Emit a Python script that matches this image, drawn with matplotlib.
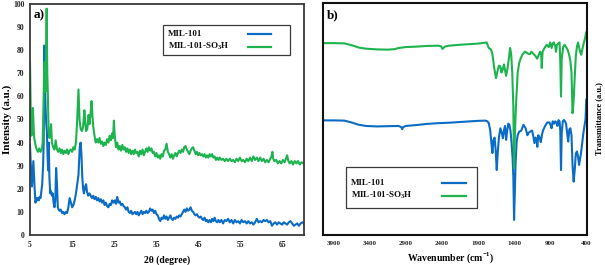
import matplotlib
matplotlib.use("Agg")
import matplotlib.pyplot as plt
from matplotlib.lines import Line2D
from matplotlib.patches import Rectangle

plt.rcParams['font.family'] = ['Liberation Serif', 'DejaVu Serif']
plt.rcParams['font.weight'] = 'bold'
plt.rcParams['mathtext.fontset'] = 'custom'
plt.rcParams['mathtext.rm'] = 'Liberation Serif:bold'
plt.rcParams['mathtext.bf'] = 'Liberation Serif:bold'

BLUE = '#0a6cc4'
GREEN = '#1db34f'

# ---------------- XRD data (panel a) ----------------
xrd_green_x = [5.0, 5.2, 5.35, 5.5, 5.7, 5.85, 6.0, 6.3, 6.6, 6.9, 7.2, 7.5, 7.8, 8.0, 8.2, 8.35, 8.5, 8.65, 8.8, 8.95,
               9.1, 9.25, 9.4, 9.6, 9.8, 10.0, 10.2, 10.5, 10.8, 11.1, 11.4, 11.7, 12.0, 12.3, 12.6, 12.9, 13.2, 13.5,
               13.8, 14.1, 14.4, 14.7, 15.0, 15.3, 15.6, 15.9, 16.2, 16.5, 16.75, 17.0, 17.3, 17.6, 17.9, 18.1, 18.3,
               18.6, 18.9, 19.1, 19.4, 19.6, 19.8, 20.0, 20.3, 20.6, 20.9, 21.2, 21.5, 21.8, 22.1, 22.4, 22.7, 23.0,
               23.3, 23.6, 23.9, 24.2, 24.5, 24.7, 24.9, 25.1, 25.4, 25.7, 26.0, 26.3, 26.6, 26.9, 27.2, 27.5, 27.8,
               28.1, 28.4, 28.7, 29.0, 29.3, 29.6, 29.9, 30.2, 30.5, 30.8, 31.1, 31.4, 31.7, 32.0, 32.3, 32.6, 32.9,
               33.2, 33.5, 33.8, 34.1, 34.4, 34.7, 35.0, 35.3, 35.6, 35.9, 36.2, 36.5, 36.8, 37.1, 37.4, 37.7, 38.0,
               38.3, 38.6, 38.9, 39.2, 39.5, 39.8, 40.1, 40.4, 40.7, 41.0, 41.3, 41.6, 41.9, 42.2, 42.5, 42.8, 43.1,
               43.4, 43.7, 44.0, 44.3, 44.6, 44.9, 45.2, 45.5, 45.8, 46.1, 46.4, 46.7, 47.0, 47.3, 47.6, 47.9, 48.2,
               48.5, 48.8, 49.1, 49.4, 49.7, 50.0, 50.4, 50.8, 51.2, 51.6, 52.0, 52.4, 52.8, 53.2, 53.6, 54.0, 54.4,
               54.8, 55.2, 55.6, 56.0, 56.4, 56.8, 57.2, 57.6, 58.0, 58.4, 58.8, 59.2, 59.6, 60.0, 60.4, 60.8, 61.2,
               61.6, 62.0, 62.3, 62.5, 62.7, 63.0, 63.4, 63.8, 64.2, 64.6, 65.0, 65.4, 65.8, 66.0, 66.3, 66.6, 67.0,
               67.4, 67.8, 68.2, 68.6, 69.0, 69.4, 69.8]
xrd_green_y = [75, 50, 43, 46, 55, 47, 42, 39, 37, 36, 37.5, 36, 37, 40, 55, 72, 75, 62, 78, 98,
               70, 60, 45, 42, 44, 48, 40, 38, 37, 41, 37, 36, 37.5, 35.5, 37, 35, 36.5, 35.5,
               37, 35, 36.5, 37, 36, 38, 37, 40, 50, 63, 50, 46, 45, 47, 54, 49, 45,
               46, 52, 48, 53, 58, 52, 47, 43, 40, 41.5, 40, 42, 39.5, 40.5, 38.5, 40, 39,
               41.5, 40, 43, 41, 44, 42, 49.5, 43, 38, 40, 37, 38.5, 36.5, 39, 37, 38, 36,
               37.5, 35.5, 37, 35, 36.5, 35, 37, 35.5, 36, 34, 36.5, 35, 37, 34.5, 36, 37.5, 36,
               38, 36.5, 37.5, 35.5, 36, 34, 35.5, 33.5, 34.5, 33, 35, 34, 36.5, 37, 39.5, 36, 35,
               33.5, 35, 33, 34.5, 35.5, 34, 35.5, 36.5, 35.5, 37, 36, 38, 38.5, 37, 36, 35, 36.5,
               37.5, 38, 36.5, 35, 36, 34.5, 35.5, 34.5, 35, 34, 35, 33.5, 34.5, 33.5, 35, 34, 35,
               33.5, 34, 32.5, 33.5, 32.5, 33.5, 32.5, 33, 32, 33, 32, 33, 32, 32.5, 31.5, 33, 32,
               33.5, 32, 32.5, 31.5, 33, 32, 33.5, 32, 34, 32.5, 33.5, 32, 33.5, 32, 33, 31.5, 32.5,
               31.5, 33, 34, 36, 33, 32, 32.5, 31, 32, 31, 32.5, 31.5, 33.5, 34.5, 32, 31, 32,
               30.5, 32, 31, 32, 30.5, 31.5, 31]

xrd_blue_x = [5.0, 5.15, 5.3, 5.45, 5.6, 5.8, 5.95, 6.1, 6.3, 6.5, 6.7, 6.9, 7.1, 7.3, 7.5, 7.7, 7.9, 8.1, 8.25, 8.4,
              8.55, 8.7, 8.85, 9.0, 9.15, 9.3, 9.45, 9.6, 9.8, 10.0, 10.2, 10.4, 10.6, 10.8, 11.0, 11.2, 11.4, 11.6,
              11.8, 12.0, 12.3, 12.6, 12.9, 13.2, 13.5, 13.8, 14.1, 14.4, 14.7, 15.0, 15.3, 15.6, 15.9, 16.2, 16.5,
              16.8, 17.0, 17.2, 17.4, 17.6, 17.8, 18.1, 18.3, 18.5, 18.8, 19.1, 19.4, 19.7, 20.0, 20.3, 20.6, 20.9,
              21.2, 21.5, 21.8, 22.1, 22.4, 22.7, 23.0, 23.3, 23.6, 23.9, 24.2, 24.5, 24.8, 25.1, 25.4, 25.7, 26.0,
              26.3, 26.6, 26.9, 27.2, 27.5, 27.8, 28.1, 28.4, 28.7, 29.0, 29.3, 29.6, 29.9, 30.2, 30.5, 30.8, 31.1,
              31.4, 31.7, 32.0, 32.3, 32.6, 32.9, 33.2, 33.5, 33.8, 34.1, 34.4, 34.7, 35.0, 35.3, 35.6, 35.9, 36.2,
              36.5, 36.8, 37.1, 37.4, 37.7, 38.0, 38.3, 38.6, 38.9, 39.2, 39.5, 39.8, 40.1, 40.4, 40.7, 41.0, 41.3,
              41.6, 41.9, 42.2, 42.5, 42.8, 43.1, 43.4, 43.7, 44.0, 44.3, 44.6, 44.9, 45.2, 45.5, 45.8, 46.1, 46.4,
              46.7, 47.0, 47.3, 47.6, 47.9, 48.2, 48.5, 48.8, 49.1, 49.4, 49.7, 50.0, 50.4, 50.8, 51.2, 51.6, 52.0,
              52.4, 52.8, 53.2, 53.6, 54.0, 54.4, 54.8, 55.2, 55.6, 56.0, 56.4, 56.8, 57.2, 57.6, 58.0, 58.4, 58.8,
              59.2, 59.6, 60.0, 60.4, 60.8, 61.2, 61.6, 62.0, 62.4, 62.8, 63.2, 63.6, 64.0, 64.4, 64.8, 65.2, 65.6,
              66.0, 66.4, 66.8, 67.2, 67.6, 68.0, 68.4, 68.8, 69.2, 69.6, 70.0]
xrd_blue_y = [39, 32, 27, 21, 26, 32, 26, 20, 14, 16, 15, 16, 15, 16.5, 16, 19, 22, 30, 40, 82,
              65, 55, 48, 45, 35, 28, 40, 25, 18, 19, 17, 18, 14, 12, 15, 29, 22, 12,
              11, 10.5, 11, 9.5, 10, 9, 10, 9.5, 12, 16, 14, 12, 13, 15, 18, 22, 26,
              38, 40, 35, 25, 20, 18, 21, 22, 19, 17, 18, 17, 16, 17, 15.5, 16.5, 15,
              16, 14.5, 15.5, 14, 15, 13, 14, 12.5, 12, 13.5, 13, 15, 14, 15, 13.5, 16.5, 14,
              14.5, 13, 13.5, 12.5, 12, 11, 12, 10, 9.5, 10.5, 9, 9.5, 10, 9, 10, 8.5, 9.5,
              10.5, 9, 10, 9.5, 10.5, 9.5, 10, 11.5, 10.5, 11, 9.5, 10.5, 9, 8.5, 7, 6, 7.5,
              7, 8.5, 7, 8, 6.5, 7.5, 8.5, 7, 6.5, 7.5, 7, 8, 7.5, 8.5, 8, 9, 10,
              11, 10, 11.5, 10.5, 11, 12, 10.5, 10, 9, 8.5, 9, 8, 7.5, 8, 7, 6.5, 7.5,
              6, 6.5, 5.5, 6.5, 5.5, 7, 6, 7.5, 6, 5.5, 6.5, 5.5, 6.5, 5, 6.5, 6, 7,
              5.5, 6.5, 5, 6.5, 5.5, 6, 5, 6.5, 5.5, 6, 5, 6, 5, 5.5, 4.5, 5.5, 7,
              5.5, 6, 5.5, 6.5, 6, 6.5, 5.5, 6, 4, 5, 5.5, 4.5, 5.5, 5, 4.5, 5.5, 5,
              4.5, 5.5, 6, 5, 4, 4.5, 5, 4, 5, 5.5, 5]

# ---------------- FTIR data (panel b) ----------------
ftir_green_x = [4050, 3900, 3750, 3650, 3550, 3450, 3300, 3150, 3050, 3000, 2900, 2750, 2600, 2450, 2410, 2390,
                2360, 2300, 2150, 2000, 1900, 1820, 1780, 1750, 1720, 1700, 1675, 1650, 1630, 1610, 1590, 1575,
                1560, 1540, 1525, 1510, 1490, 1470, 1455, 1440, 1425, 1410, 1400, 1390, 1375, 1350, 1330, 1310,
                1280, 1250, 1220, 1200, 1180, 1160, 1130, 1100, 1080, 1060, 1040, 1025, 1017, 1005, 980, 950,
                920, 900, 880, 865, 850, 830, 820, 805, 790, 770, 760, 750, 740, 720, 700, 680, 660, 640, 620,
                605, 590, 575, 560, 545, 530, 515, 500, 485, 470, 455, 440, 420, 400]
ftir_green_y = [82.7, 82.7, 82.6, 81.8, 80.8, 80.3, 80.0, 79.9, 80.1, 80.6, 81.0, 81.2, 81.5, 81.6, 81.3, 80.2,
                81.2, 81.6, 82.0, 82.3, 82.5, 82.8, 83.0, 80.6, 80.0, 78.0, 72.0, 67.6, 70.5, 73.0, 72.7, 70.0,
                71.0, 73.5, 71.0, 68.6, 72.0, 76.5, 80.6, 78.0, 70.0, 55.0, 28.8, 42.0, 55.0, 70.0, 74.0, 76.0,
                78.0, 79.0, 78.5, 78.0, 78.0, 79.0, 78.0, 77.0, 76.0, 77.5, 79.0, 78.0, 72.0, 79.0, 80.5, 82.0,
                81.0, 83.0, 80.6, 82.5, 83.0, 81.5, 79.0, 82.0, 82.5, 83.0, 75.0, 59.7, 76.0, 81.0, 82.0, 81.0,
                80.0, 78.0, 75.0, 70.0, 52.5, 58.0, 68.0, 77.0, 81.0, 83.0, 81.0, 79.0, 77.7, 80.0, 82.0, 84.5, 87.3]

ftir_blue_x = [4050, 3900, 3750, 3650, 3550, 3450, 3300, 3150, 3000, 2960, 2950, 2935, 2900, 2750, 2600, 2450,
               2300, 2150, 2000, 1900, 1800, 1770, 1750, 1730, 1715, 1700, 1685, 1670, 1655, 1640, 1625, 1610,
               1590, 1570, 1555, 1540, 1525, 1510, 1495, 1480, 1465, 1450, 1435, 1420, 1410, 1400, 1390, 1380,
               1365, 1350, 1330, 1300, 1270, 1240, 1215, 1200, 1180, 1150, 1130, 1118, 1100, 1085, 1078, 1065,
               1045, 1030, 1015, 1000, 970, 940, 910, 890, 880, 865, 845, 830, 815, 800, 785, 770, 760, 750,
               740, 725, 710, 695, 680, 665, 650, 635, 620, 605, 590, 575, 560, 545, 530, 515, 500, 485, 470,
               455, 440, 425, 410, 400]
ftir_blue_y = [49.4, 49.4, 49.3, 48.5, 47.5, 47.0, 46.8, 46.9, 47.0, 46.5, 45.6, 46.5, 47.0, 47.4, 47.9, 48.2,
               48.4, 48.7, 49.0, 49.2, 49.3, 49.0, 48.2, 45.0, 40.0, 35.3, 41.0, 42.0, 36.7, 28.0, 36.0, 42.0,
               46.0, 44.0, 41.7, 45.0, 47.0, 41.0, 45.0, 48.0, 47.5, 45.0, 40.0, 33.0, 25.0, 6.5, 18.0, 30.0,
               40.0, 43.0, 44.5, 45.0, 47.5, 46.0, 43.0, 44.0, 44.5, 45.0, 42.0, 39.6, 42.0, 40.0, 38.0, 43.0,
               42.0, 40.0, 43.0, 45.0, 47.0, 48.5, 48.5, 47.0, 46.0, 49.0, 48.0, 49.0, 48.5, 47.0, 49.5, 49.0,
               45.0, 28.0, 44.0, 49.0, 49.6, 49.0, 48.0, 44.0, 40.3, 45.5, 46.0, 43.0, 30.0, 23.0, 28.0, 35.0,
               36.0, 34.0, 30.2, 33.0, 36.0, 40.0, 44.0, 47.0, 50.0, 58.3]

labels = ['MIL-101', 'MIL-101-SO$_{3}$H']
colors = [BLUE, GREEN]

W, H = 605, 265
fig = plt.figure(figsize=(W / 100, H / 100), dpi=100)
SPINE = '#3a3a3a'


def fx(px):
    return px / W


def fy(py):
    return 1 - py / H


def manual_legend(box, text_x, line_x0, line_x1, rows_y):
    x0, y0, x1, y1 = box
    fig.patches.append(Rectangle((fx(x0), fy(y1)), fx(x1) - fx(x0), fy(y0) - fy(y1),
                                 transform=fig.transFigure, facecolor='white',
                                 edgecolor=SPINE, linewidth=0.9, zorder=5))
    for lab, col, ry in zip(labels, colors, rows_y):
        fig.text(fx(text_x), fy(ry), lab, fontsize=6.5, fontweight='bold', ha='left', va='center',
                 color='#111111', zorder=6)
        fig.lines.append(Line2D([fx(line_x0), fx(line_x1)], [fy(ry), fy(ry)], transform=fig.transFigure,
                                color=col, lw=1.6, zorder=6))


# ---------------- Panel a ----------------
ax1 = fig.add_axes([fx(30), 30 / H, 274 / W, 231 / H])
ax1.plot(xrd_blue_x, xrd_blue_y, color=BLUE, lw=1.5)
ax1.plot(xrd_green_x, xrd_green_y, color=GREEN, lw=1.5)
ax1.set_xlim(5, 70)
ax1.set_ylim(0, 100)
ax1.set_xticks([5, 15, 25, 35, 45, 55, 65])
ax1.set_yticks(range(0, 101, 10))
ax1.tick_params(labelsize=5.5, length=0, pad=4, colors='#222222')
for s in ax1.spines.values():
    s.set_color(SPINE)
    s.set_linewidth(1.3)
ax1.set_xlabel('2θ (degree)', fontsize=7, fontweight='bold', labelpad=5)
fig.text(fx(7), fy(119), 'Intensity (a.u.)', rotation=90, fontsize=8, fontweight='bold',
         ha='center', va='center')
ax1.text(0.015, 0.975, 'a)', transform=ax1.transAxes, fontsize=9.5, fontweight='bold', va='top', ha='left')
manual_legend((163, 25, 290, 55), 168, 248, 271, (34, 46.5))

# ---------------- Panel b ----------------
ax2 = fig.add_axes([fx(323), 30 / H, 264 / W, 232 / H])
ax2.plot(ftir_blue_x, ftir_blue_y, color=BLUE, lw=1.5)
ax2.plot(ftir_green_x, ftir_green_y, color=GREEN, lw=1.5)
ax2.set_xlim(4046, 390)
ax2.set_ylim(0, 100)
ax2.set_xticks([3900, 3400, 2900, 2400, 1900, 1400, 900, 400])
ax2.set_yticks([])
ax2.tick_params(labelsize=5, length=0, pad=4, colors='#222222')
for s in ax2.spines.values():
    s.set_color('#111111')
    s.set_linewidth(1.5)
fig.text(fx(451), fy(258), 'Wavenumber (cm$^{-1}$)', fontsize=7, fontweight='bold', ha='center', va='center')
ax2.yaxis.set_label_position('right')
ax2.set_ylabel('Transmittance (a.u.)', fontsize=6, fontweight='bold', labelpad=6)
ax2.text(0.015, 0.975, 'b)', transform=ax2.transAxes, fontsize=9.5, fontweight='bold', va='top', ha='left')
manual_legend((346, 167, 477, 208), 351, 442, 466, (183, 195.5))

fig.savefig('out.png', dpi=100)
